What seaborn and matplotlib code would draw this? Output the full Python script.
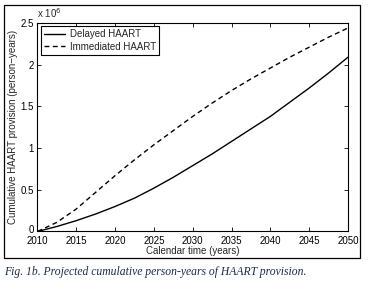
import seaborn as sns
import matplotlib.pyplot as plt
import matplotlib.transforms as mtransforms
import pandas as pd
from matplotlib.patches import Rectangle

years = [2010, 2012.5, 2015, 2017.5, 2020, 2022.5, 2025, 2027.5, 2030,
         2032.5, 2035, 2037.5, 2040, 2042.5, 2045, 2047.5, 2050]
# cumulative person-years, in units of 10^6
delayed = [0, 0.06, 0.13, 0.21, 0.30, 0.40, 0.52, 0.65, 0.79,
           0.93, 1.08, 1.23, 1.38, 1.55, 1.72, 1.90, 2.09]
immediate = [0, 0.11, 0.27, 0.47, 0.67, 0.86, 1.04, 1.21, 1.38,
             1.54, 1.69, 1.83, 1.96, 2.09, 2.21, 2.33, 2.44]
series_names = ["Delayed HAART", "Immediated HAART"]
xticks = list(range(2010, 2051, 5))
yticks = [0, 0.5, 1, 1.5, 2, 2.5]
ytick_labels = ["0", "0.5", "1", "1.5", "2", "2.5"]

df = pd.DataFrame({
    "year": years * 2,
    "value": delayed + immediate,
    "scenario": [series_names[0]] * len(years) + [series_names[1]] * len(years),
})

sns.set_style("white")
plt.rcParams['font.family'] = ['Liberation Sans', 'DejaVu Sans']

fig = plt.figure(figsize=(3.69, 2.86), dpi=100)
ax = fig.add_axes([0.1016, 0.1906, 0.8415, 0.729])

sns.lineplot(data=df, x="year", y="value", style="scenario",
             style_order=series_names,
             dashes={series_names[0]: "", series_names[1]: (3.5, 2.5)},
             color="black", linewidth=1.0, ax=ax)

ax.set_xlim(2010, 2050)
ax.set_ylim(0, 2.5)
ax.set_xticks(xticks)
ax.set_xticklabels([str(x) for x in xticks], fontsize=7)
ax.set_yticks(yticks)
ax.set_yticklabels(ytick_labels, fontsize=7)
ax.tick_params(direction="in", length=3, width=0.6, top=True, right=True,
               bottom=True, left=True, colors="black")
ax.tick_params(axis="x", pad=3.3)
ax.tick_params(axis="y", pad=2.5)
for s in ax.spines.values():
    s.set_color("black")
    s.set_linewidth(0.8)

# nudge the "0" label up a little so it clears "2010"
zero_lbl = ax.get_yticklabels()[0]
zero_lbl.set_transform(zero_lbl.get_transform() +
                       mtransforms.ScaledTranslation(0, 1.8 / 72, fig.dpi_scale_trans))

ax.set_xlabel("Calendar time (years)", fontsize=7, labelpad=0)
ax.set_ylabel("Cumulative HAART provision (person\u2212years)", fontsize=7, labelpad=2)
ax.text(0.0, 1.012, "x 10$^6$", transform=ax.transAxes, fontsize=7,
        ha="left", va="bottom")

leg = ax.legend(loc="upper left", fontsize=7, handlelength=2.2,
                frameon=True, fancybox=False, framealpha=1,
                borderpad=0.3, labelspacing=0.25, handletextpad=0.45,
                borderaxespad=0.35)
leg.get_frame().set_edgecolor("black")
leg.get_frame().set_linewidth(0.8)

fig.patches.append(Rectangle((4 / 369, 1 - 258 / 286), 356 / 369, 253 / 286,
                             transform=fig.transFigure, fill=False,
                             edgecolor="black", linewidth=0.9))

fig.text(4 / 369, 1 - 272 / 286,
         "Fig. 1b. Projected cumulative person-years of HAART provision.",
         family=["Liberation Serif", "DejaVu Serif"], style="italic",
         fontsize=8.4, color="#1c2b48", ha="left", va="center")

fig.savefig("out.png", dpi=100)
